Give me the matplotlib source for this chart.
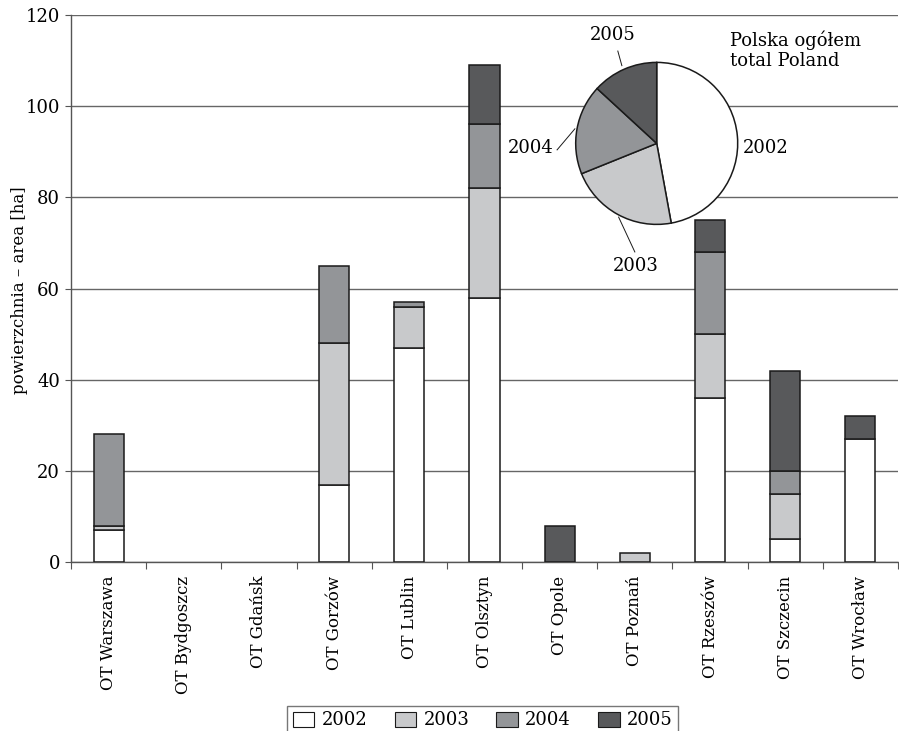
import matplotlib
matplotlib.use("Agg")
import matplotlib.pyplot as plt
from matplotlib.patches import Patch
import numpy as np

categories = ["OT Warszawa", "OT Bydgoszcz", "OT Gdańsk", "OT Gorzów", "OT Lublin",
              "OT Olsztyn", "OT Opole", "OT Poznań", "OT Rzeszów", "OT Szczecin", "OT Wrocław"]
years = ["2002", "2003", "2004", "2005"]
v2002 = [7, 0, 0, 17, 47, 58, 0, 0, 36, 5, 27]
v2003 = [1, 0, 0, 31, 9, 24, 0, 2, 14, 10, 0]
v2004 = [20, 0, 0, 17, 1, 14, 0, 0, 18, 5, 0]
v2005 = [0, 0, 0, 0, 0, 13, 8, 0, 7, 22, 5]
colors = ["#ffffff", "#c8c9cb", "#939598", "#58595b"]
yticks = [0, 20, 40, 60, 80, 100, 120]

plt.rcParams['font.family'] = ['DejaVu Serif']
W, H = 899, 731
fig = plt.figure(figsize=(W / 100, H / 100), dpi=100)
ax = fig.add_axes([71 / W, 1 - 562 / H, (898 - 71) / W, (562 - 15) / H])

series = [v2002, v2003, v2004, v2005]
x = np.arange(len(categories))
bottom = np.zeros(len(categories))
edge = "#1a1a1a"
for vals, c in zip(series, colors):
    vals = np.array(vals, dtype=float)
    mask = vals > 0
    ax.bar(x[mask], vals[mask], bottom=bottom[mask], width=0.4, color=c,
           edgecolor=edge, linewidth=1.1, zorder=3)
    bottom += vals

ax.set_xlim(-0.5, len(categories) - 0.5)
ax.set_ylim(0, 120)
ax.set_yticks(yticks)
ax.tick_params(axis='y', labelsize=13, length=4, width=0.8, color="#555555", pad=4)
ax.yaxis.grid(True, color="#666666", linewidth=1.0, zorder=0)
ax.set_axisbelow(True)
ax.set_xticks(x)
ax.set_xticklabels(categories, rotation=90, fontsize=12, va='top')
ax.tick_params(axis='x', which='major', length=0, pad=10)
ax.set_xticks(np.arange(-0.5, len(categories) - 0.4, 1), minor=True)
ax.tick_params(axis='x', which='minor', length=5, width=0.8, color="#555555")
for s in ["top", "right"]:
    ax.spines[s].set_visible(False)
for s in ["left", "bottom"]:
    ax.spines[s].set_color("#555555")
    ax.spines[s].set_linewidth(1.0)
fig.text(20 / W, 1 - 290 / H, "powierzchnia – area [ha]", rotation=90, fontsize=12,
         ha='center', va='center')

# pie inset
totals = [sum(v) for v in series]
cx, cy, r = 656.7, 143.4, 81
pax = fig.add_axes([(cx - r) / W, 1 - (cy + r) / H, 2 * r / W, 2 * r / H])
pax.pie(totals, colors=colors, startangle=90, counterclock=False, radius=1,
        wedgeprops=dict(edgecolor=edge, linewidth=1.1))
pax.set_xlim(-1, 1)
pax.set_ylim(-1, 1)
pax.set_aspect('auto')
pax.axis('off')
fs = 13
pax.text(-0.54, 1.34, "2005", ha='center', va='center', fontsize=fs, clip_on=False)
pax.plot([-0.48, -0.43], [1.14, 0.96], color=edge, lw=0.7, clip_on=False)
pax.text(-1.56, -0.06, "2004", ha='center', va='center', fontsize=fs, clip_on=False)
pax.plot([-1.23, -1.01], [-0.08, 0.18], color=edge, lw=0.7, clip_on=False)
pax.text(-0.26, -1.51, "2003", ha='center', va='center', fontsize=fs, clip_on=False)
pax.plot([-0.27, -0.47], [-1.34, -0.91], color=edge, lw=0.7, clip_on=False)
pax.text(1.06, -0.06, "2002", ha='left', va='center', fontsize=fs, clip_on=False)
pax.text(0.905, 1.40, "Polska ogółem\ntotal Poland", ha='left', va='top', fontsize=fs,
         linespacing=1.15, clip_on=False)

handles = [Patch(facecolor=c, edgecolor=edge, linewidth=0.8) for c in colors]
leg = fig.legend(handles, years, loc='upper center', bbox_to_anchor=(0.537, 1 - 697 / H),
                 ncol=4, fontsize=13, frameon=True, fancybox=False, edgecolor="#555555",
                 handlelength=1.2, handleheight=0.9, handletextpad=0.4, columnspacing=1.5,
                 borderpad=0.3)
leg.get_frame().set_linewidth(1.0)

fig.savefig("out.png", dpi=100)
